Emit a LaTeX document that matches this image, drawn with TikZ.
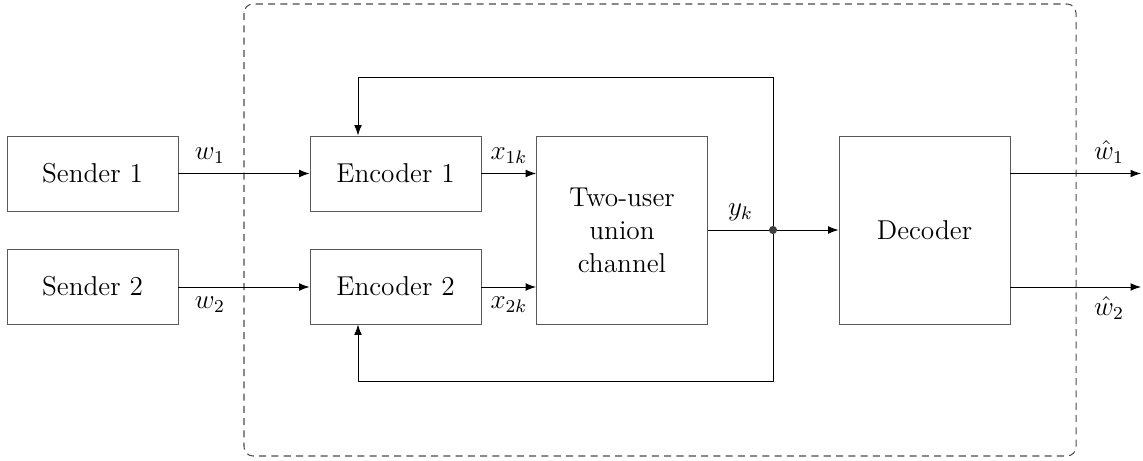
\documentclass[12pt,tikz,border=0pt]{standalone}
\usetikzlibrary{arrows.meta,calc}
\begin{document}
\begin{tikzpicture}[x=0.44pt,y=-0.44pt,
  blk/.style={draw=black!65,line width=0.4pt,inner sep=0pt,align=center,
              minimum width=75.2pt},
  small/.style={blk,minimum height=33pt},
  large/.style={blk,minimum height=82.7pt},
  conn/.style={line width=0.4pt,-{Latex[length=4.6pt,width=3.4pt]}},
  wire/.style={line width=0.4pt}]
\useasboundingbox (0,0) rectangle (1143,461);
% outer dashed frame
\draw[black!70,dash pattern=on 3.1pt off 2.3pt,line width=0.45pt,rounded corners=4pt]
  (244,4) rectangle (1076,456);
% blocks
\node[small] (s1) at (92.5,173.5) {Sender 1};
\node[small] (s2) at (92.5,286.5) {Sender 2};
\node[small] (e1) at (395.5,173.5) {Encoder 1};
\node[small] (e2) at (395.5,286.5) {Encoder 2};
\node[large] (ch) at (622,230) {Two-user\\union\\channel};
\node[large] (dec) at (924.5,230) {Decoder};
% junction and free ends
\coordinate (j) at (773,230);
\coordinate (top) at (773,77);
\coordinate (bot) at (773,381);
\coordinate (tl) at (358,77);
\coordinate (bl) at (358,381);
\coordinate (o1) at (1141,173.5);
\coordinate (o2) at (1141,287);
% sender to encoder
\draw[conn] (s1.east) -- node[above,pos=0.24] {$w_1$} (e1.west);
\draw[conn] (s2.east |- 0,287) -- node[below,pos=0.24] {$w_2$} (e2.west |- 0,287);
% encoder to channel
\draw[conn] (e1.east) -- node[above] {$x_{1k}$} (ch.west |- e1.east);
\draw[conn] (e2.east |- 0,287) -- node[below] {$x_{2k}$} (ch.west |- 0,287);
% channel output
\draw[wire] (ch.east |- j) -- node[above] {$y_k$} (j);
\draw[conn] (j) -- (dec.west |- j);
% feedback paths
\draw[conn] (j) -- (top) -- (tl) -- (tl |- e1.north);
\draw[conn] (j) -- (bot) -- (bl) -- (bl |- e2.south);
\fill[black!75] (j) circle (1.8pt);
% decoder outputs
\draw[conn] (dec.east |- o1) -- node[above,pos=0.755] {$\hat{w}_1$} (o1);
\draw[conn] (dec.east |- o2) -- node[below,pos=0.755] {$\hat{w}_2$} (o2);
\end{tikzpicture}
\end{document}
